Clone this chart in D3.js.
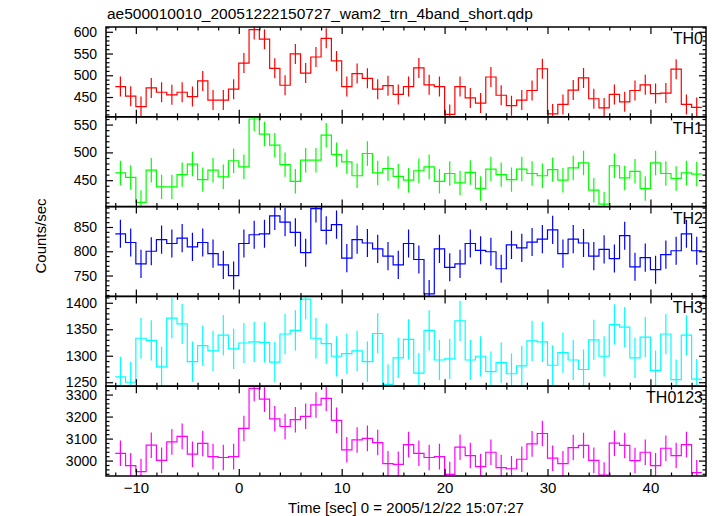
<!DOCTYPE html>
<html>
<head>
<meta charset="utf-8">
<script src="https://cdn.jsdelivr.net/npm/d3@7"></script>
<style>
  html, body { margin: 0; padding: 0; background: #fff; }
  svg { display: block; }
  text { font-family: "Liberation Sans", Arial, Helvetica, sans-serif; fill: #000; }
</style>
</head>
<body>
<svg id="chart" width="717" height="516"></svg>
<script>
// ---- data (1-s bins from -12 s to 45 s) ----
const binStart = -12;
const binWidth = 1;
const th0 = [474,452,428,471,461,455,461,451,487,443,443,468,528,605,583,516,477,549,505,542,
             585,533,474,504,493,468,476,456,474,517,478,474,410,474,448,436,496,454,430,443,
             465,515,411,433,466,494,446,425,456,439,465,478,458,459,514,433,426];
const th1 = [463,455,410,468,438,438,460,479,451,468,456,485,474,560,533,513,478,448,486,486,
             531,496,483,458,498,463,471,457,450,467,474,448,462,445,464,435,470,460,451,470,
             462,458,469,450,472,481,432,407,476,454,466,435,481,462,453,463,461];
const th2 = [836,818,774,800,824,816,827,809,818,795,772,750,816,834,836,873,860,839,797,888,
             843,855,786,824,817,805,790,772,816,783,712,805,767,774,816,802,799,764,813,807,
             819,825,844,795,825,817,790,804,785,832,768,787,762,793,801,836,801];
const th3 = [1260,1250,1333,1329,1279,1371,1360,1289,1319,1309,1339,1313,1324,1326,1325,1288,1341,1348,1407,1333,
             1323,1299,1304,1309,1289,1342,1246,1296,1331,1267,1348,1292,1294,1366,1292,1299,1270,1287,1266,1281,
             1328,1326,1282,1306,1292,1274,1330,1299,1359,1354,1296,1335,1272,1341,1255,1339,1256];
const th0123 = [3033,2977,2950,3070,3001,3085,3110,3029,3078,3018,3014,3018,3146,3328,3279,3190,3155,3186,3201,3253,
                3283,3183,3049,3094,3101,3082,2986,2983,3073,3033,3014,3018,2937,3061,3023,2973,3038,2968,2963,3006,
                3076,3123,3011,2986,3059,3069,3001,2934,3079,3069,3000,3038,2977,3056,3023,3073,2945];
const errors = [23, 22, 29, 38, 58];           // half-length of the error bars
const panelNames = ["TH0", "TH1", "TH2", "TH3", "TH0123"];
const panelColors = ["#ff0000", "#00ff00", "#0000ff", "#00ffff", "#ff00ff"];
const panelDomains = [[404.5, 611], [402.5, 564], [707, 892], [1242.5, 1412], [2930, 3338]];
const yMajorTicks = [[450, 500, 550, 600], [450, 500, 550], [750, 800, 850], [1250, 1300, 1350, 1400], [3000, 3100, 3200, 3300]];
const yMinorStep = [10, 10, 10, 10, 20];
const xDomain = [-12.9, 45.4];
const xMajorTicks = [-10, 0, 10, 20, 30, 40];
const xMinorStep = 2;
const title = "ae500010010_20051222150727_wam2_trn_4band_short.qdp";
const xTitle = "Time [sec] 0 = 2005/12/22 15:07:27";
const yTitle = "Counts/sec";

const series = [th0, th1, th2, th3, th0123];

(function draw() {
  // ---- layout ----
  const L = 106, R = 706, T = 27, B = 476;
  const nPanels = series.length;
  const ph = (B - T) / nPanels;
  const FS = 15, TFS = 14;

  const svg = d3.select("#chart");
  const x = d3.scaleLinear().domain(xDomain).range([L, R]);

  const xMinor = d3.range(-12, 46, xMinorStep).filter(v => !xMajorTicks.includes(v) && v >= xDomain[0] && v <= xDomain[1]);

  svg.append("text").attr("x", 107).attr("y", 19).attr("font-size", FS + 0.5).text(title);

  series.forEach((vals, p) => {
    const y0 = T + p * ph, y1 = y0 + ph;
    const y = d3.scaleLinear().domain(panelDomains[p]).range([y1, y0]);
    const color = panelColors[p];

    const clipId = "clip" + p;
    svg.append("clipPath").attr("id", clipId)
      .append("rect").attr("x", L).attr("y", y0).attr("width", R - L).attr("height", ph);

    const g = svg.append("g").attr("clip-path", `url(#${clipId})`);

    // step histogram
    const pts = vals.map((v, i) => [binStart + i * binWidth, v]);
    pts.push([binStart + vals.length * binWidth, vals[vals.length - 1]]);
    const line = d3.line().x(d => x(d[0])).y(d => y(d[1])).curve(d3.curveStepAfter);
    g.append("path").attr("d", line(pts)).attr("fill", "none")
      .attr("stroke", color).attr("stroke-width", 1.2);

    // error bars
    g.selectAll("line.err").data(vals).join("line")
      .attr("class", "err")
      .attr("x1", (v, i) => x(binStart + (i + 0.5) * binWidth))
      .attr("x2", (v, i) => x(binStart + (i + 0.5) * binWidth))
      .attr("y1", v => y(v - errors[p]))
      .attr("y2", v => y(v + errors[p]))
      .attr("stroke", color).attr("stroke-width", 1.2);

    const yMinor = d3.range(Math.ceil(panelDomains[p][0] / yMinorStep[p]) * yMinorStep[p], panelDomains[p][1], yMinorStep[p])
      .filter(v => !yMajorTicks[p].includes(v));

    const style = sel => {
      sel.select(".domain").remove();
      sel.selectAll(".tick line").attr("stroke", "#000").attr("stroke-width", 1.2);
      sel.selectAll(".tick text").attr("font-size", TFS).attr("font-family", "Liberation Sans, Arial, sans-serif").attr("fill", "#000");
    };

    svg.append("g").attr("transform", `translate(${L},0)`)
      .call(d3.axisLeft(y).tickValues(yMajorTicks[p]).tickSize(-7).tickPadding(9).tickFormat(d3.format("d"))).call(style);
    svg.append("g").attr("transform", `translate(${L},0)`)
      .call(d3.axisLeft(y).tickValues(yMinor).tickSize(-3.5).tickFormat("")).call(style);
    svg.append("g").attr("transform", `translate(${R},0)`)
      .call(d3.axisRight(y).tickValues(yMajorTicks[p]).tickSize(-7).tickFormat("")).call(style);
    svg.append("g").attr("transform", `translate(${R},0)`)
      .call(d3.axisRight(y).tickValues(yMinor).tickSize(-3.5).tickFormat("")).call(style);

    svg.append("g").attr("transform", `translate(0,${y0})`)
      .call(d3.axisTop(x).tickValues(xMajorTicks).tickSize(-7).tickFormat("")).call(style);
    svg.append("g").attr("transform", `translate(0,${y0})`)
      .call(d3.axisTop(x).tickValues(xMinor).tickSize(-3.5).tickFormat("")).call(style);
    const isLast = p === nPanels - 1;
    svg.append("g").attr("transform", `translate(0,${y1})`)
      .call(d3.axisBottom(x).tickValues(xMajorTicks).tickSize(-7).tickPadding(6)
        .tickFormat(isLast ? d3.format("d") : "")).call(style)
      .selectAll(".tick text").attr("font-size", FS);
    svg.append("g").attr("transform", `translate(0,${y1})`)
      .call(d3.axisBottom(x).tickValues(xMinor).tickSize(-3.5).tickFormat("")).call(style);

    // frame
    svg.append("rect").attr("x", L).attr("y", y0).attr("width", R - L).attr("height", ph)
      .attr("fill", "none").attr("stroke", "#000").attr("stroke-width", 1.5);

    // panel name
    svg.append("text").attr("x", R - 3).attr("y", y0 + 17).attr("text-anchor", "end")
      .attr("font-size", FS + 1).text(panelNames[p]);
  });

  svg.append("text").attr("x", (L + R) / 2).attr("y", 513).attr("text-anchor", "middle")
    .attr("font-size", FS).text(xTitle);
  svg.append("text").attr("transform", `translate(46,236) rotate(-90)`)
    .attr("text-anchor", "middle").attr("font-size", FS).text(yTitle);
})();
</script>
</body>
</html>
